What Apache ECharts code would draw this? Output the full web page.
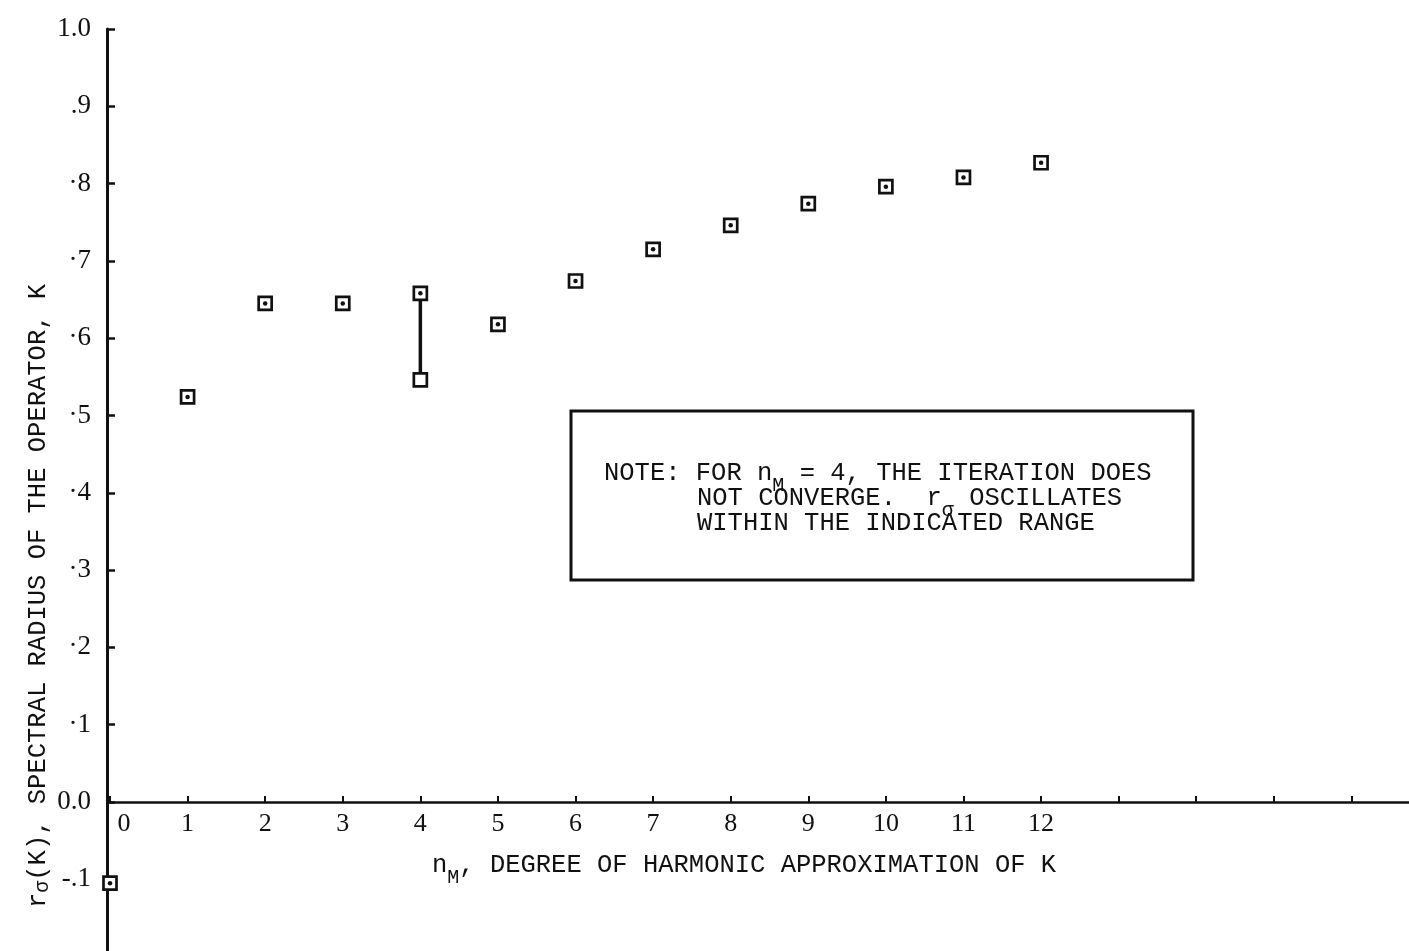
<!DOCTYPE html>
<html>
<head>
<meta charset="utf-8">
<script src="https://cdn.jsdelivr.net/npm/echarts@6/dist/echarts.min.js"></script>
<style>
  html, body { margin: 0; padding: 0; background: #ffffff; }
  #chart { width: 1409px; height: 951px; }
</style>
</head>
<body>
<div id="chart"></div>
<script>
// ---- data ----
const nM = [0, 1, 2, 3, 4, 5, 6, 7, 8, 9, 10, 11, 12];
const rSigma = [-0.105, 0.524, 0.645, 0.645, 0.658, 0.618, 0.674, 0.715, 0.746, 0.774, 0.796, 0.808, 0.827];
const nM4Range = [0.546, 0.658];          // oscillation range for n_M = 4
const xTickLabels = ['0', '1', '2', '3', '4', '5', '6', '7', '8', '9', '10', '11', '12'];
const yTickLabels = { '-1': '-.1', '0': '0.0', '1': '·1', '2': '·2', '3': '·3', '4': '·4',
                      '5': '·5', '6': '·6', '7': '·7', '8': '·8', '9': '.9', '10': '1.0' };
const xTitle = ['n', 'M', ', DEGREE OF HARMONIC APPROXIMATION OF K'];
const yTitle = ['r', 'σ', '(K), SPECTRAL RADIUS OF THE OPERATOR, K'];
const noteLines = [
  ['NOTE: FOR n', 'M', ' = 4, THE ITERATION DOES'],
  ['NOT CONVERGE.  r', 'σ', ' OSCILLATES'],
  ['WITHIN THE INDICATED RANGE']
];

const INK = '#111111';
const MONO = 'Liberation Mono';
const SERIF = 'Liberation Serif';

const Y_MIN = -0.2, Y_MAX = 1.0;
const GRID_TOP = 29, GRID_BOTTOM = -5.6, H = 951;
const plotH = H - GRID_TOP - GRID_BOTTOM;
// distance (px) from grid bottom edge up to the value 0 line
const zeroOffset = plotH * (0 - Y_MIN) / (Y_MAX - Y_MIN);

const points = nM.map((x, i) => [x, rSigma[i]]);
const lowPoint = [[4, nM4Range[0]]];
const rangeLine = [[4, nM4Range[0]], [4, nM4Range[1]]];

const rich = {
  n: { fontFamily: MONO, fontSize: 25.5, fill: INK, verticalAlign: 'top' },
  s: { fontFamily: MONO, fontSize: 20, fill: INK, verticalAlign: 'top', padding: [16, 0, 0, 0] },
  s2: { fontFamily: MONO, fontSize: 20, fill: INK, verticalAlign: 'top', padding: [8, 0, 0, 0] }
};
function richText(parts, subStyle) {
  return parts.map((p, i) => '{' + (i % 2 === 1 ? (subStyle || 's') : 'n') + '|' + p + '}').join('');
}

const chart = echarts.init(document.getElementById('chart'), null, { renderer: 'canvas' });

chart.setOption({
  backgroundColor: '#ffffff',
  animation: false,
  grid: { left: 110, right: -20, top: GRID_TOP, bottom: GRID_BOTTOM, containLabel: false, outerBoundsMode: 'none' },
  xAxis: {
    type: 'value',
    position: 'bottom',
    offset: -zeroOffset,
    min: 0, max: 17, interval: 1,
    axisLine: { show: true, onZero: false, lineStyle: { color: INK, width: 2.5 } },
    axisTick: { show: true, inside: true, length: 6, lineStyle: { color: INK, width: 2 } },
    splitLine: { show: false },
    axisLabel: {
      margin: 9,
      fontFamily: SERIF, fontSize: 26, color: INK,
      formatter: function (v) {
        const i = Math.round(v);
        if (i === 0) return '{z|' + xTickLabels[0] + '}';
        return i < xTickLabels.length ? xTickLabels[i] : '';
      },
      rich: { z: { fontFamily: SERIF, fontSize: 26, color: INK, padding: [0, 0, 0, 28] } }
    }
  },
  yAxis: {
    type: 'value',
    min: Y_MIN, max: Y_MAX, interval: 0.1,
    offset: 3,
    axisLine: { show: true, onZero: false, lineStyle: { color: INK, width: 3 } },
    axisTick: { show: true, inside: true, length: 8, lineStyle: { color: INK, width: 2.5 } },
    splitLine: { show: false },
    axisLabel: {
      margin: 16,
      fontFamily: SERIF, fontSize: 27, color: INK,
      formatter: function (v) {
        const k = String(Math.round(v * 10));
        return yTickLabels[k] !== undefined ? yTickLabels[k] : '';
      }
    }
  },
  series: [
    {
      type: 'line',
      data: rangeLine,
      symbol: 'none',
      lineStyle: { color: INK, width: 3.5 },
      z: 2,
      silent: true
    },
    {
      type: 'scatter',
      data: points.concat(lowPoint),
      symbol: 'rect',
      symbolSize: 13,
      itemStyle: { color: '#ffffff', borderColor: INK, borderWidth: 2.7, opacity: 1 },
      z: 3,
      silent: true
    },
    {
      type: 'scatter',
      data: points,
      symbol: 'circle',
      symbolSize: 4.5,
      itemStyle: { color: INK, opacity: 1 },
      z: 4,
      silent: true
    }
  ],
  graphic: [
    {
      type: 'rect',
      shape: { x: 571, y: 411, width: 622, height: 169 },
      style: { fill: 'none', stroke: INK, lineWidth: 3 },
      z: 10
    },
    {
      type: 'text', x: 604, y: 460, z: 10,
      style: { text: richText(noteLines[0]), rich: rich, align: 'left', verticalAlign: 'top' }
    },
    {
      type: 'text', x: 697, y: 485, z: 10,
      style: { text: richText(noteLines[1]), rich: rich, align: 'left', verticalAlign: 'top' }
    },
    {
      type: 'text', x: 697, y: 510, z: 10,
      style: { text: richText(noteLines[2]), rich: rich, align: 'left', verticalAlign: 'top' }
    },
    {
      type: 'text', x: 432, y: 852, z: 10,
      style: { text: richText(xTitle), rich: rich, align: 'left', verticalAlign: 'top' }
    },
    {
      type: 'text', x: 25, y: 908, rotation: Math.PI / 2, z: 10,
      style: { text: richText(yTitle, 's2'), rich: rich, align: 'left', verticalAlign: 'top' }
    }
  ]
});
</script>
</body>
</html>
